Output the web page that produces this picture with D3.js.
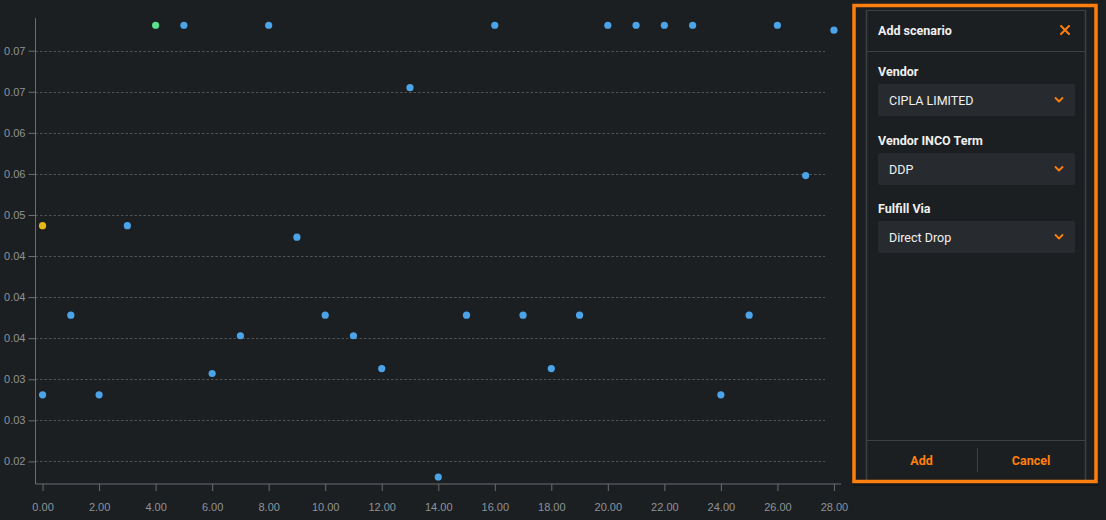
<!DOCTYPE html>
<html>
<head>
<meta charset="utf-8">
<script src="https://cdn.jsdelivr.net/npm/d3@7"></script>
<style>
  html, body { margin: 0; padding: 0; background: #1b1f22; }
  svg { display: block; font-family: Roboto, "Noto Sans", sans-serif; }
</style>
</head>
<body>
<svg id="chart" width="1106" height="520"></svg>
<script>
// ---- data ----
const blueX = [0, 1, 2, 3, 5, 6, 7, 8, 9, 10, 11, 12, 13, 14, 15, 16, 17, 18, 19, 20, 21, 22, 23, 24, 25, 26, 27, 28];
const blueY = [0.0281, 0.0378, 0.0281, 0.0487, 0.0731, 0.0307, 0.0353, 0.0731, 0.0473, 0.0378, 0.0353, 0.0313, 0.0655, 0.0181,
               0.0378, 0.0731, 0.0378, 0.0313, 0.0378, 0.0731, 0.0731, 0.0731, 0.0731, 0.0281, 0.0378, 0.0731, 0.0548, 0.0725];
const yellowX = [0];
const yellowY = [0.0487];
const greenX = [4];
const greenY = [0.0731];

const xTickValues = [0, 2, 4, 6, 8, 10, 12, 14, 16, 18, 20, 22, 24, 26, 28];
const yTickValues = [0.02, 0.025, 0.03, 0.035, 0.04, 0.045, 0.05, 0.055, 0.06, 0.065, 0.07];
const yTickLabels = ["0.02", "0.03", "0.03", "0.04", "0.04", "0.04", "0.05", "0.06", "0.06", "0.07", "0.07"];

const panelTitle = "Add scenario";
const fieldLabels = ["Vendor", "Vendor INCO Term", "Fulfill Via"];
const fieldValues = ["CIPLA LIMITED", "DDP", "Direct Drop"];
const buttonLabels = ["Add", "Cancel"];

// ---- colors ----
const C = {
  axis: "#6a6e72",
  grid: "#505356",
  tickText: "#8e9398",
  blue: "#4ba3e8",
  yellow: "#e9b614",
  green: "#5ce08b",
  orange: "#ff7f0e",
  panelBorder: "#3d4144",
  field: "#272b2f",
  white: "#f0f0f0"
};
const tickFont = "'Liberation Sans', Arial, Helvetica, sans-serif";

const svg = d3.select("#chart");

// ---- scales ----
const x = d3.scaleLinear().domain([-0.25, 28.25]).range([35.5, 841]);
const y = d3.scaleLinear().domain([0.01725, 0.07398]).range([484, 18]);

// grid lines
svg.append("g").selectAll("line").data(yTickValues).join("line")
  .attr("x1", 35.5).attr("x2", 825)
  .attr("y1", d => Math.round(y(d)) + 0.5).attr("y2", d => Math.round(y(d)) + 0.5)
  .attr("stroke", C.grid).attr("stroke-width", 1).attr("stroke-dasharray", "2.5,2");

// y axis
const yAxis = d3.axisLeft(y).tickValues(yTickValues).tickSize(7).tickPadding(3)
  .tickFormat((d, i) => yTickLabels[i]);
const gy = svg.append("g").attr("transform", "translate(35.5,0)").call(yAxis);
gy.select(".domain").attr("stroke", C.axis).attr("d", `M0,${y.range()[1]}V${y.range()[0]}`);
gy.selectAll(".tick line").attr("stroke", C.axis);
gy.selectAll(".tick text").attr("fill", C.tickText).attr("font-size", 11).attr("font-family", tickFont);

// x axis
const xAxis = d3.axisBottom(x).tickValues(xTickValues).tickSize(7).tickPadding(12)
  .tickFormat(d3.format(".2f"));
const gx = svg.append("g").attr("transform", "translate(0,484)").call(xAxis);
gx.select(".domain").attr("stroke", C.axis).attr("d", `M${x.range()[0]},0H${x.range()[1]}`);
gx.selectAll(".tick line").attr("stroke", C.axis);
gx.selectAll(".tick text").attr("fill", C.tickText).attr("font-size", 11).attr("font-family", tickFont);

// points
function drawPoints(xs, ys, color) {
  svg.append("g").selectAll("circle").data(xs.map((d, i) => [d, ys[i]])).join("circle")
    .attr("cx", d => x(d[0])).attr("cy", d => y(d[1])).attr("r", 3.6)
    .attr("fill", color);
}
drawPoints(blueX, blueY, C.blue);
drawPoints(yellowX, yellowY, C.yellow);
drawPoints(greenX, greenY, C.green);

// ---- side panel ----
const panel = svg.append("g");
panel.append("rect").attr("x", 853).attr("y", 7).attr("width", 245).attr("height", 479)
  .attr("fill", "#111315").attr("opacity", 0.6);
panel.append("rect").attr("x", 854).attr("y", 5.5).attr("width", 242).attr("height", 476)
  .attr("fill", "#1b1f22");
panel.append("line").attr("x1", 866.5).attr("x2", 866.5).attr("y1", 10).attr("y2", 480)
  .attr("stroke", C.panelBorder).attr("stroke-width", 1.5);
panel.append("line").attr("x1", 1085.5).attr("x2", 1085.5).attr("y1", 10).attr("y2", 480)
  .attr("stroke", C.panelBorder).attr("stroke-width", 1.5);
panel.append("line").attr("x1", 866).attr("x2", 1086).attr("y1", 10.5).attr("y2", 10.5)
  .attr("stroke", C.panelBorder).attr("stroke-width", 1);
panel.append("line").attr("x1", 866).attr("x2", 1086).attr("y1", 51.5).attr("y2", 51.5)
  .attr("stroke", C.panelBorder).attr("stroke-width", 1.2);
panel.append("line").attr("x1", 866).attr("x2", 1086).attr("y1", 440.5).attr("y2", 440.5)
  .attr("stroke", C.panelBorder).attr("stroke-width", 1.2);
panel.append("line").attr("x1", 977.5).attr("x2", 977.5).attr("y1", 448).attr("y2", 472)
  .attr("stroke", C.panelBorder).attr("stroke-width", 1);

panel.append("text").attr("x", 878).attr("y", 35).text(panelTitle)
  .attr("fill", C.white).attr("font-size", 12.5).attr("font-weight", 700);
panel.append("path").attr("d", "M1061,26L1069,34M1069,26L1061,34")
  .attr("stroke", C.orange).attr("stroke-width", 2).attr("stroke-linecap", "round");

const fieldTop = [84, 153, 221];
fieldLabels.forEach((lab, i) => {
  const t = fieldTop[i];
  panel.append("text").attr("x", 878).attr("y", t - 8).text(lab)
    .attr("fill", C.white).attr("font-size", 12.5).attr("font-weight", 700);
  panel.append("rect").attr("x", 878).attr("y", t).attr("width", 197).attr("height", 32).attr("rx", 2)
    .attr("fill", C.field);
  panel.append("text").attr("x", 889).attr("y", t + 20.5).text(fieldValues[i])
    .attr("fill", C.white).attr("font-size", 12.5);
  panel.append("path").attr("d", `M1055.5,${t + 14}L1059,${t + 17.5}L1062.5,${t + 14}`)
    .attr("stroke", C.orange).attr("stroke-width", 1.8).attr("fill", "none")
    .attr("stroke-linecap", "round").attr("stroke-linejoin", "round");
});

[921.5, 1031].forEach((cx, i) => {
  panel.append("text").attr("x", cx).attr("y", 465).attr("text-anchor", "middle").text(buttonLabels[i])
    .attr("fill", C.orange).attr("font-size", 12.5).attr("font-weight", 700);
});

panel.append("rect").attr("x", 854).attr("y", 5.5).attr("width", 242).attr("height", 476)
  .attr("fill", "none").attr("stroke", C.orange).attr("stroke-width", 3.5);
</script>
</body>
</html>
